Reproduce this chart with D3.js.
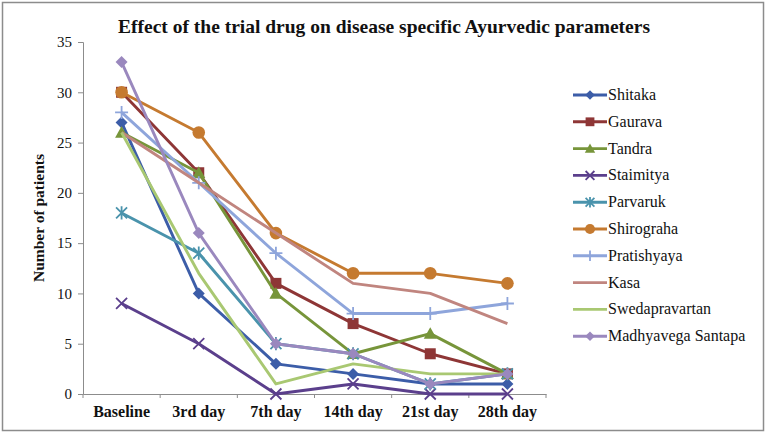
<!DOCTYPE html>
<html>
<head>
<meta charset="utf-8">
<script src="https://cdn.jsdelivr.net/npm/d3@7"></script>
<style>
  html, body { margin: 0; padding: 0; background: #fff; }
  svg { display: block; }
</style>
</head>
<body>
<svg id="chart" width="767" height="435"></svg>
<script>
const categories = ["Baseline", "3rd day", "7th day", "14th day", "21st day", "28th day"];
const seriesNames = ["Shitaka", "Gaurava", "Tandra", "Staimitya", "Parvaruk", "Shirograha", "Pratishyaya", "Kasa", "Swedapravartan", "Madhyavega Santapa"];
const shitaka        = [27, 10, 3, 2, 1, 1];
const gaurava        = [30, 22, 11, 7, 4, 2];
const tandra         = [26, 22, 10, 4, 6, 2];
const staimitya      = [9, 5, 0, 1, 0, 0];
const parvaruk       = [18, 14, 5, 4, 1, 2];
const shirograha     = [30, 26, 16, 12, 12, 11];
const pratishyaya    = [28, 21, 14, 8, 8, 9];
const kasa           = [26, 21, 16, 11, 10, 7];
const swedapravartan = [26, 12, 1, 3, 2, 2];
const madhyavega     = [33, 16, 5, 4, 1, 2];
const yTicks = [0, 5, 10, 15, 20, 25, 30, 35];
const title = "Effect of the trial drug on disease specific Ayurvedic parameters";
const yTitle = "Number of patients";

const seriesValues = [shitaka, gaurava, tandra, staimitya, parvaruk, shirograha, pratishyaya, kasa, swedapravartan, madhyavega];
const colors = ["#3C5DA8", "#8E3636", "#77953A", "#5B3F8C", "#4A93AC", "#C57A30", "#8EA5DB", "#C0857F", "#A9C872", "#9A88BE"];
const markers = ["diamond", "square", "triangle", "x", "star", "circle", "plus", "none", "none", "diamond"];
const FONT = '"Liberation Serif", "Times New Roman", "DejaVu Serif", serif';

const svg = d3.select("#chart");

// outer border
svg.append("rect").attr("x", 2.5).attr("y", 2.5).attr("width", 761).attr("height", 428)
  .attr("fill", "#fff").attr("stroke", "#8c8c8c").attr("stroke-width", 1.5);

const x = d3.scaleBand().domain(categories).range([83, 546]).padding(0);
const y = d3.scaleLinear().domain([0, 35]).range([394, 42]);
const cx = c => x(c) + x.bandwidth() / 2;

// title
svg.append("text").attr("x", 384).attr("y", 33).attr("text-anchor", "middle")
  .attr("font-family", FONT).attr("font-size", 19.5).attr("font-weight", "bold").attr("fill", "#111").text(title);

// y axis
const yAxis = svg.append("g").attr("transform", "translate(83,0)")
  .call(d3.axisLeft(y).tickValues(yTicks).tickSize(5).tickPadding(6).tickFormat(d3.format("d")));
yAxis.attr("font-family", FONT);
yAxis.selectAll("path, line").attr("stroke", "#8c8c8c");
yAxis.selectAll("text").attr("font-size", 15).attr("fill", "#111").attr("font-family", FONT);

// x axis
const xAxis = svg.append("g").attr("transform", "translate(0,394)")
  .call(d3.axisBottom(x).tickSize(0).tickPadding(12));
xAxis.attr("font-family", FONT);
xAxis.select("path").attr("stroke", "#8c8c8c");
xAxis.selectAll("text").attr("font-size", 16).attr("font-weight", "bold").attr("fill", "#111").attr("font-family", FONT);
// category boundary ticks
const bounds = categories.map(c => x(c)).concat([x(categories[categories.length - 1]) + x.bandwidth()]);
xAxis.selectAll("line.bound").data(bounds).enter().append("line").attr("class", "bound")
  .attr("x1", d => d).attr("x2", d => d).attr("y1", 0).attr("y2", 4).attr("stroke", "#8c8c8c");

// y title
svg.append("text").attr("transform", "translate(44,218) rotate(-90)").attr("text-anchor", "middle")
  .attr("font-family", FONT).attr("font-size", 15.5).attr("font-weight", "bold").attr("fill", "#111").text(yTitle);

function drawMarker(g, type, px, py, color, scale) {
  const s = scale || 1;
  if (type === "diamond") {
    const r = 6 * s;
    g.append("path").attr("d", `M${px},${py - r}L${px + r},${py}L${px},${py + r}L${px - r},${py}Z`).attr("fill", color);
  } else if (type === "square") {
    const r = 5.5 * s;
    g.append("rect").attr("x", px - r).attr("y", py - r).attr("width", 2 * r).attr("height", 2 * r).attr("fill", color);
  } else if (type === "triangle") {
    const r = 6.5 * s;
    g.append("path").attr("d", `M${px},${py - r}L${px + r},${py + r * 0.8}L${px - r},${py + r * 0.8}Z`).attr("fill", color);
  } else if (type === "x") {
    const r = 5.5 * s;
    g.append("path").attr("d", `M${px - r},${py - r}L${px + r},${py + r}M${px - r},${py + r}L${px + r},${py - r}`)
      .attr("stroke", color).attr("stroke-width", 1.8).attr("fill", "none");
  } else if (type === "star") {
    const r = 5.5 * s;
    g.append("path").attr("d", `M${px - r},${py - r}L${px + r},${py + r}M${px - r},${py + r}L${px + r},${py - r}M${px},${py - r * 1.2}L${px},${py + r * 1.2}`)
      .attr("stroke", color).attr("stroke-width", 1.8).attr("fill", "none");
  } else if (type === "circle") {
    g.append("circle").attr("cx", px).attr("cy", py).attr("r", 6.3 * s).attr("fill", color);
  } else if (type === "plus") {
    const r = 6.5 * s;
    g.append("path").attr("d", `M${px - r},${py}L${px + r},${py}M${px},${py - r}L${px},${py + r}`)
      .attr("stroke", color).attr("stroke-width", 1.8).attr("fill", "none");
  }
}

const line = d3.line().x((d, i) => cx(categories[i])).y(d => y(d));

seriesValues.forEach((vals, si) => {
  const g = svg.append("g");
  g.append("path").datum(vals).attr("d", line).attr("fill", "none")
    .attr("stroke", colors[si]).attr("stroke-width", 2.9).attr("stroke-linejoin", "round");
  vals.forEach((v, i) => drawMarker(g, markers[si], cx(categories[i]), y(v), colors[si], 1));
});

// legend
const legend = svg.append("g");
seriesNames.forEach((name, i) => {
  const ly = 95 + i * 26.8;
  legend.append("line").attr("x1", 573).attr("x2", 607).attr("y1", ly).attr("y2", ly)
    .attr("stroke", colors[i]).attr("stroke-width", 2.9);
  drawMarker(legend, markers[i], 590, ly, colors[i], 0.8);
  legend.append("text").attr("x", 608).attr("y", ly + 5).attr("font-family", FONT)
    .attr("font-size", 16).attr("fill", "#111").text(name);
});
</script>
</body>
</html>
